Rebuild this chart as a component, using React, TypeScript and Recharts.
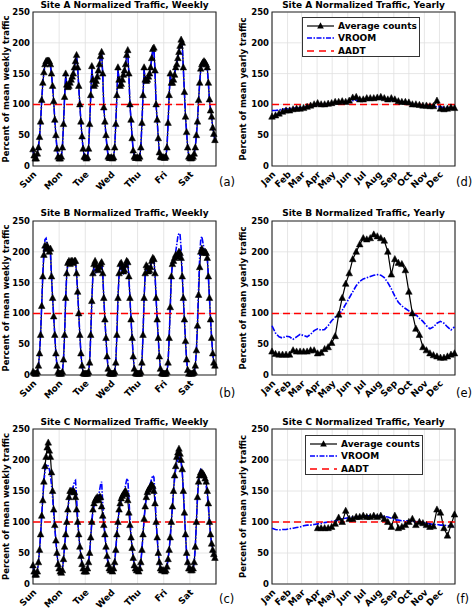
import React from "react";
import {
  LineChart, Line, XAxis, YAxis, CartesianGrid, ReferenceLine, ReferenceArea,
} from "recharts";

const FONT = "'DejaVu Sans', sans-serif";

const weekDays = ["Sun", "Mon", "Tue", "Wed", "Thu", "Fri", "Sat"];
const weekTicks = [0, 24, 48, 72, 96, 120, 144];
const months = ["Jan", "Feb", "Mar", "Apr", "May", "Jun", "Jul", "Aug", "Sep", "Oct", "Nov", "Dec"];
const monthTicks = [0, 31, 59, 90, 120, 151, 181, 212, 243, 273, 304, 334];
const yTicks = [0, 50, 100, 150, 200, 250];
const AADT = 100;

// hourly profiles, one line per day (Sun..Sat)
const siteAWeekAvg = [
  27, 17, 12, 12, 20, 30, 47, 72, 107, 135, 152, 165, 170, 171, 171, 170, 165, 150, 130, 105, 75, 50, 28, 15,
  12, 12, 15, 30, 68, 112, 150, 132, 128, 130, 135, 140, 145, 150, 160, 170, 180, 160, 130, 100, 72, 48, 28, 15,
  14, 12, 14, 28, 68, 115, 162, 140, 130, 133, 138, 145, 155, 165, 178, 185, 150, 95, 72, 50, 30, 15, 13, 13,
  14, 12, 14, 30, 68, 115, 160, 140, 130, 133, 140, 148, 155, 165, 180, 188, 150, 100, 75, 45, 25, 15, 13, 13,
  14, 12, 15, 30, 70, 115, 160, 140, 138, 140, 145, 150, 160, 175, 190, 192, 155, 100, 75, 45, 22, 15, 14, 14,
  14, 13, 15, 30, 70, 115, 150, 135, 135, 140, 148, 160, 165, 175, 185, 195, 205, 200, 160, 120, 80, 55, 30, 15,
  13, 12, 13, 15, 20, 30, 50, 72, 107, 135, 158, 165, 168, 170, 168, 165, 160, 135, 108, 90, 80, 62, 52, 42,
];
const siteAWeekVroom = [
  26, 17, 13, 12, 19, 31, 48, 73, 106, 134, 151, 164, 169, 170, 170, 169, 163, 149, 128, 104, 76, 50, 29, 16,
  13, 12, 15, 31, 67, 111, 146, 133, 129, 131, 135, 140, 146, 152, 161, 171, 178, 158, 128, 99, 71, 47, 28, 16,
  14, 13, 15, 29, 67, 114, 157, 140, 131, 134, 139, 146, 156, 166, 178, 183, 149, 96, 72, 49, 30, 16, 13, 13,
  14, 13, 15, 30, 68, 114, 156, 140, 131, 134, 141, 149, 156, 166, 180, 186, 150, 99, 74, 46, 26, 16, 13, 13,
  14, 13, 15, 30, 69, 114, 156, 140, 138, 141, 146, 151, 161, 175, 188, 190, 154, 99, 74, 45, 23, 16, 14, 14,
  14, 13, 15, 30, 69, 114, 148, 136, 136, 141, 149, 160, 166, 176, 186, 195, 202, 197, 158, 119, 80, 55, 31, 16,
  13, 12, 13, 15, 21, 31, 50, 73, 106, 134, 156, 164, 167, 169, 167, 164, 158, 134, 107, 90, 79, 62, 52, 42,
];
const siteBWeekAvg = [
  5, 3, 2, 2, 5, 15, 35, 65, 112, 160, 195, 210, 205, 210, 205, 200, 205, 160, 125, 95, 65, 35, 15, 5,
  2, 2, 2, 5, 25, 65, 125, 165, 182, 185, 180, 185, 185, 182, 185, 185, 165, 135, 100, 65, 35, 15, 3, 2,
  2, 2, 2, 5, 20, 65, 120, 165, 180, 185, 178, 172, 170, 175, 180, 183, 165, 125, 90, 60, 30, 10, 3, 2,
  2, 2, 2, 5, 20, 65, 125, 165, 180, 182, 175, 168, 170, 178, 185, 183, 160, 125, 90, 60, 30, 10, 3, 2,
  2, 2, 2, 5, 20, 65, 125, 165, 178, 175, 168, 170, 175, 185, 190, 188, 165, 125, 90, 60, 30, 10, 3, 2,
  2, 2, 2, 5, 20, 60, 110, 160, 180, 185, 190, 195, 192, 195, 200, 198, 190, 160, 125, 90, 55, 25, 8, 2,
  3, 2, 2, 3, 5, 15, 40, 80, 130, 175, 200, 205, 200, 198, 200, 198, 190, 160, 125, 90, 60, 35, 20, 15,
];
const siteBWeekVroom = [
  5, 3, 2, 2, 5, 15, 35, 70, 115, 165, 200, 220, 222, 212, 205, 203, 198, 160, 125, 95, 65, 35, 15, 5,
  2, 2, 2, 5, 25, 65, 125, 165, 180, 185, 185, 183, 182, 184, 186, 185, 165, 135, 100, 65, 35, 15, 3, 2,
  2, 2, 2, 5, 20, 65, 120, 162, 172, 168, 165, 168, 172, 178, 182, 180, 165, 125, 90, 60, 30, 10, 3, 2,
  2, 2, 2, 5, 20, 65, 125, 162, 175, 172, 168, 165, 170, 178, 185, 183, 160, 125, 90, 60, 30, 10, 3, 2,
  2, 2, 2, 5, 20, 65, 125, 162, 172, 170, 168, 172, 178, 185, 190, 188, 165, 125, 90, 60, 30, 10, 3, 2,
  2, 2, 2, 5, 20, 60, 110, 160, 180, 185, 190, 200, 212, 225, 230, 228, 205, 165, 125, 90, 55, 25, 8, 2,
  3, 2, 2, 3, 5, 15, 40, 85, 140, 190, 220, 225, 215, 205, 200, 198, 190, 160, 125, 90, 60, 35, 20, 15,
];
const siteCWeekAvg = [
  30, 20, 15, 15, 20, 35, 55, 80, 110, 135, 165, 190, 205, 220, 228, 215, 205, 180, 150, 120, 95, 70, 50, 32,
  25, 20, 18, 22, 40, 60, 80, 100, 120, 140, 150, 150, 148, 150, 148, 140, 120, 100, 80, 60, 45, 32, 25, 20,
  20, 20, 25, 35, 50, 75, 100, 120, 130, 135, 138, 140, 135, 140, 140, 125, 110, 95, 80, 60, 45, 32, 25, 22,
  22, 20, 25, 35, 55, 80, 100, 120, 130, 138, 142, 145, 148, 150, 145, 135, 115, 95, 75, 58, 42, 30, 25, 22,
  22, 20, 25, 35, 55, 80, 105, 125, 140, 148, 152, 155, 158, 160, 158, 150, 130, 100, 75, 50, 35, 25, 22, 22,
  22, 20, 22, 28, 40, 55, 75, 100, 125, 150, 175, 190, 205, 212, 218, 210, 200, 185, 150, 115, 80, 50, 35, 25,
  25, 22, 22, 25, 35, 60, 100, 140, 165, 175, 180, 180, 178, 175, 170, 165, 150, 130, 100, 80, 65, 55, 48, 42,
];
const siteCWeekVroom = [
  30, 20, 15, 15, 20, 35, 55, 80, 110, 140, 165, 182, 190, 193, 190, 185, 175, 160, 140, 115, 90, 70, 50, 32,
  25, 20, 18, 22, 40, 60, 80, 100, 120, 135, 145, 150, 152, 158, 165, 167, 140, 105, 80, 60, 45, 32, 25, 20,
  20, 20, 25, 35, 50, 75, 100, 118, 125, 130, 132, 135, 138, 150, 160, 165, 130, 100, 80, 60, 45, 32, 25, 22,
  22, 20, 25, 35, 55, 80, 100, 118, 128, 135, 140, 145, 150, 160, 168, 170, 140, 105, 78, 58, 42, 30, 25, 22,
  22, 20, 25, 35, 55, 80, 105, 125, 138, 146, 152, 158, 164, 170, 175, 172, 145, 105, 75, 50, 35, 25, 22, 22,
  22, 20, 22, 28, 40, 55, 75, 100, 125, 150, 170, 185, 195, 200, 203, 205, 195, 180, 150, 115, 80, 50, 35, 25,
  25, 22, 22, 25, 35, 60, 100, 140, 168, 180, 185, 183, 178, 172, 165, 158, 145, 125, 100, 80, 65, 55, 48, 42,
];

// weekly samples through the year (53 weeks)
const siteAYearAvg = [
  80, 82, 85, 88, 90, 90, 92, 93, 93, 94, 96, 98, 100, 102, 100, 100, 101, 102, 104, 104, 105, 104, 106, 111, 112, 108,
  108, 110, 110, 110, 111, 112, 110, 108, 110, 108, 105, 104, 104, 103, 100, 100, 99, 98, 98, 97, 97, 106, 93, 92, 93, 95, 94,
];
const siteAYearVroom = [
  90, 90, 91, 92, 93, 93, 94, 94, 95, 95, 96, 97, 98, 99, 100, 100, 100, 101, 102, 103, 103, 104, 105, 106, 107, 107,
  108, 108, 108, 109, 109, 109, 109, 108, 107, 106, 105, 104, 103, 102, 101, 100, 99, 98, 98, 97, 97, 96, 96, 95, 95, 94, 94,
];
const siteBYearAvg = [
  38, 34, 33, 33, 33, 33, 40, 38, 38, 38, 38, 40, 40, 35, 36, 42, 45, 52, 63, 98, 125, 148, 165, 188, 200, 212,
  222, 220, 222, 228, 225, 222, 218, 200, 163, 188, 182, 180, 170, 135, 100, 75, 65, 45, 40, 35, 32, 30, 28, 28, 30, 33, 35,
];
const siteBYearVroom = [
  80, 68, 62, 60, 63, 62, 58, 62, 66, 64, 62, 66, 72, 75, 73, 74, 80, 88, 94, 98, 105, 115, 125, 135, 145, 152,
  156, 158, 160, 162, 163, 162, 158, 150, 140, 128, 118, 112, 108, 104, 100, 98, 92, 87, 80, 75, 78, 84, 87, 84, 78, 73, 78,
];
const siteCYearAvg = [
  null, null, null, null, null, null, null, null, null, null, null, null, null,
  90, 90, 90, 90, 92, 97, 107, 100, 118, 105, 105, 108, 108, 110, 108, 108, 110, 108, 110, 105, 100, 92,
  110, 90, 92, 95, 100, 105, 95, 100, 98, 95, 92, 93, 120, 115, 90, 78, 95, 112,
];
const siteCYearVroom = [
  90, 88, 87, 88, 88, 89, 90, 91, 92, 94, 95, 95, 96, 97, 98, 99, 100, 101, 102, 104, 105, 106, 107, 108, 108, 109,
  110, 110, 110, 110, 110, 109, 109, 108, 106, 104, 103, 102, 102, 102, 101, 101, 100, 99, 98, 97, 96, 96, 95, 95, 94, 93, 93,
];

type Row = { x: number; avg: number | null; vroom: number };

const weekRows = (avg: number[], vroom: number[]): Row[] =>
  avg.map((v, i) => ({ x: i, avg: v, vroom: vroom[i] }));
const yearRows = (avg: (number | null)[], vroom: number[]): Row[] =>
  vroom.map((v, i) => ({ x: i * 7, avg: avg[i], vroom: v }));

const TriDot = (props: any) => {
  const { cx, cy, index } = props;
  if (cx == null || cy == null || props.value == null) return <g key={`t-${index}`} />;
  return (
    <polygon
      key={`t-${index}`}
      points={`${cx},${cy - 3.7} ${cx - 3.3},${cy + 2.5} ${cx + 3.3},${cy + 2.5}`}
      fill="#000"
      stroke="#000"
      strokeWidth={0.5}
    />
  );
};

const RotTick = ({ x, y, payload, ticks, labels }: any) => {
  const i = ticks.indexOf(payload.value);
  const tx = x + 4;
  const ty = y + 9;
  return (
    <text
      x={tx} y={ty} textAnchor="end" transform={`rotate(-45, ${tx}, ${ty})`}
      fontSize={9} fontWeight="bold" fontFamily={FONT} fill="#000"
    >
      {labels[i]}
    </text>
  );
};

const YLabel = ({ viewBox, text }: any) => {
  const x = viewBox.x + 9;
  const y = viewBox.y + viewBox.height / 2;
  return (
    <text
      x={x} y={y} textAnchor="middle" transform={`rotate(-90, ${x}, ${y})`}
      fontSize={8.5} fontWeight="bold" fontFamily={FONT} fill="#000"
    >
      {text}
    </text>
  );
};

function LegendBox({ left, top }: { left: number; top: number }) {
  const row = (sample: React.ReactNode, label: string) => (
    <div style={{ display: "flex", alignItems: "center", height: 12.5, whiteSpace: "nowrap" }}>
      <svg width={28} height={10} style={{ marginRight: 3, flex: "none" }}>{sample}</svg>
      <span>{label}</span>
    </div>
  );
  return (
    <div
      style={{
        position: "absolute", left, top, width: 118, height: 40, padding: "1.5px 0 0 4px",
        border: "1px solid #333", background: "#fff", fontFamily: FONT,
        fontSize: 9, fontWeight: "bold", lineHeight: "12px", boxSizing: "border-box",
      }}
    >
      {row(
        <g>
          <line x1={0} y1={5} x2={27} y2={5} stroke="#000" strokeWidth={1.2} />
          <polygon points="13.5,1.3 10.2,7.5 16.8,7.5" fill="#000" />
        </g>,
        "Average counts",
      )}
      {row(<line x1={0} y1={5} x2={27} y2={5} stroke="blue" strokeWidth={1.6} strokeDasharray="5 1.5 1.5 1.5" />, "VROOM")}
      {row(<line x1={0} y1={5} x2={27} y2={5} stroke="red" strokeWidth={1.6} strokeDasharray="7 5" />, "AADT")}
    </div>
  );
}

type PanelProps = {
  left: number; top: number; width: number; height: number;
  plotTop: number; plotBottom: number; yAxisW: number; rightGap: number;
  title: string; titleY: number; tag: string; tagY: number; yLabel: string;
  rows: Row[]; ticks: number[]; labels: string[]; xMax: number;
  legend?: { left: number; top: number };
};

function Panel(p: PanelProps) {
  const xAxisH = p.height - p.plotBottom;
  const plotCenter = p.yAxisW + (p.width - p.yAxisW - p.rightGap) / 2;
  return (
    <div style={{ position: "absolute", left: p.left, top: p.top, width: p.width, height: p.height }}>
      <LineChart
        width={p.width} height={p.height} data={p.rows}
        margin={{ top: p.plotTop, right: p.rightGap, bottom: 0, left: 0 }}
      >
        <CartesianGrid stroke="#e0e0e0" strokeWidth={0.8} />
        <XAxis
          dataKey="x" type="number" domain={[0, p.xMax]} ticks={p.ticks} interval={0}
          height={xAxisH} axisLine={false} tickLine={false} tickSize={0} tickMargin={0}
          tick={(t: any) => <RotTick {...t} ticks={p.ticks} labels={p.labels} />}
        />
        <YAxis
          type="number" domain={[0, 250]} ticks={yTicks} interval={0} width={p.yAxisW}
          axisLine={false} tickLine={false} tickSize={0} tickMargin={3}
          tick={{ fill: "#000", fontSize: 8.5, fontWeight: "bold", fontFamily: FONT }}
          label={<YLabel text={p.yLabel} />}
        />
        <ReferenceArea x1={0} x2={p.xMax} y1={0} y2={250} fill="none" stroke="#262626" strokeWidth={1.1} />
        <Line
          dataKey="avg" stroke="#000" strokeWidth={1.2} dot={<TriDot />}
          isAnimationActive={false} connectNulls={false}
        />
        <Line
          dataKey="vroom" stroke="blue" strokeWidth={1.6} strokeDasharray="6 1.5 1.5 1.5"
          dot={false} isAnimationActive={false}
        />
        <ReferenceLine y={AADT} stroke="red" strokeWidth={1.5} strokeDasharray="7 4" />
      </LineChart>
      <div
        style={{
          position: "absolute", left: plotCenter - 120, width: 240, top: p.titleY - 6, height: 12,
          textAlign: "center", fontFamily: FONT, fontSize: 9, fontWeight: "bold", lineHeight: "12px",
          whiteSpace: "nowrap",
        }}
      >
        {p.title}
      </div>
      <div
        style={{
          position: "absolute", left: p.width - 18, top: p.tagY - 7, height: 14,
          fontFamily: FONT, fontSize: 11.5, lineHeight: "14px", whiteSpace: "nowrap",
        }}
      >
        {p.tag}
      </div>
      {p.legend && <LegendBox left={p.legend.left} top={p.legend.top} />}
    </div>
  );
}

export default function App() {
  const weekly = { ticks: weekTicks, labels: weekDays, xMax: 168, yLabel: "Percent of mean weekly traffic", yAxisW: 33, rightGap: 21, left: 0, width: 237 };
  const yearly = { ticks: monthTicks, labels: months, xMax: 365, yLabel: "Percent of mean yearly traffic", yAxisW: 35, rightGap: 19, left: 237, width: 237 };
  const row1 = { top: 0, height: 200, plotTop: 12, plotBottom: 166, titleY: 4.5, tagY: 182 };
  const row2 = { top: 200, height: 205, plotTop: 21, plotBottom: 175, titleY: 13, tagY: 193 };
  const row3 = { top: 405, height: 203, plotTop: 24, plotBottom: 179, titleY: 17, tagY: 194 };
  return (
    <div style={{ position: "absolute", left: 0, top: 0, width: 474, height: 608, background: "#fff", overflow: "hidden" }}>
      <Panel {...weekly} {...row1} title="Site A Normalized Traffic, Weekly" tag="(a)" rows={weekRows(siteAWeekAvg, siteAWeekVroom)} />
      <Panel {...yearly} {...row1} title="Site A Normalized Traffic, Yearly" tag="(d)" rows={yearRows(siteAYearAvg, siteAYearVroom)} legend={{ left: 65, top: 17 }} />
      <Panel {...weekly} {...row2} title="Site B Normalized Traffic, Weekly" tag="(b)" rows={weekRows(siteBWeekAvg, siteBWeekVroom)} />
      <Panel {...yearly} {...row2} title="Site B Normalized Traffic, Yearly" tag="(e)" rows={yearRows(siteBYearAvg, siteBYearVroom)} />
      <Panel {...weekly} {...row3} title="Site C Normalized Traffic, Weekly" tag="(c)" rows={weekRows(siteCWeekAvg, siteCWeekVroom)} />
      <Panel {...yearly} {...row3} title="Site C Normalized Traffic, Yearly" tag="(f)" rows={yearRows(siteCYearAvg, siteCYearVroom)} legend={{ left: 68, top: 30 }} />
    </div>
  );
}
